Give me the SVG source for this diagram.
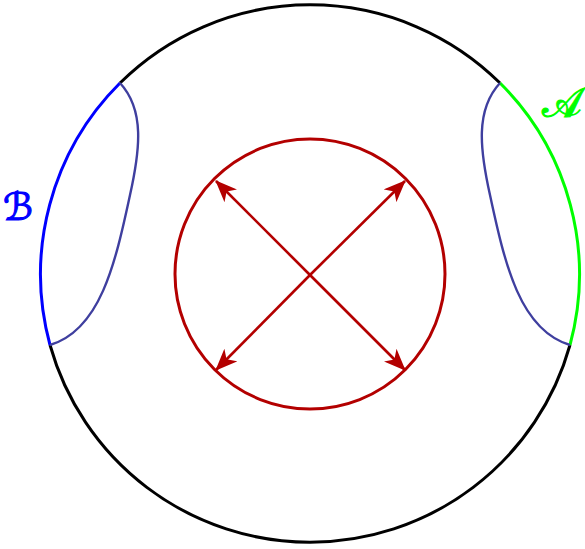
<svg xmlns="http://www.w3.org/2000/svg" width="585" height="549" viewBox="0 0 585 549">
<style>
.outer{fill:none;stroke:#000;stroke-width:3}
.inner{fill:none;stroke:#b30000;stroke-width:3}
.arr{fill:none;stroke:#b30000;stroke-width:2.6}
.curve{fill:none;stroke:#3f3f9f;stroke-width:2.4}
.lbl{font-family:"DejaVu Serif","DejaVu Sans","Noto Sans",serif;font-size:38px;stroke-width:1.2}
</style>
<defs>
<marker id="ah" viewBox="0 0 22 18" refX="21" refY="9" markerWidth="22" markerHeight="18" markerUnits="userSpaceOnUse" orient="auto">
<path d="M0,0 L22,9 L0,18 L6,9 Z" fill="#b30000"/>
</marker>
</defs>
<g id="outer-circle">
<path class="outer" d="M120,83 A270,270 0 0 1 500,83"/>
<path class="outer" d="M570,345 A270,270 0 0 1 50,345"/>
</g>
<g id="region-B">
<path d="M120,83 A270,270 0 0 0 50,345" fill="none" stroke="#0000ff" stroke-width="3"/>
<path class="curve" d="M120,83 C145,110 140,150 130,195 C115,265 100,330 50,345"/>
<text class="lbl" x="3" y="220" fill="#0000ff" stroke="#0000ff">ℬ</text>
</g>
<g id="region-A">
<path d="M500,83 A270,270 0 0 1 570,345" fill="none" stroke="#00ff00" stroke-width="3"/>
<path class="curve" d="M500,83 C475,110 480,150 490,195 C505,265 520,330 570,345"/>
<text class="lbl" x="582" y="117" text-anchor="end" fill="#00ff00" stroke="#00ff00" style="font-size:42px">𝒜</text>
</g>
<g id="inner-circle"><circle class="inner" cx="310" cy="274" r="135"/></g>
<g id="connectors">
<line class="arr" x1="310" y1="275" x2="216" y2="181" marker-end="url(#ah)"/>
<line class="arr" x1="310" y1="275" x2="405" y2="181" marker-end="url(#ah)"/>
<line class="arr" x1="310" y1="275" x2="216" y2="370" marker-end="url(#ah)"/>
<line class="arr" x1="310" y1="275" x2="405" y2="370" marker-end="url(#ah)"/>
</g>
</svg>
